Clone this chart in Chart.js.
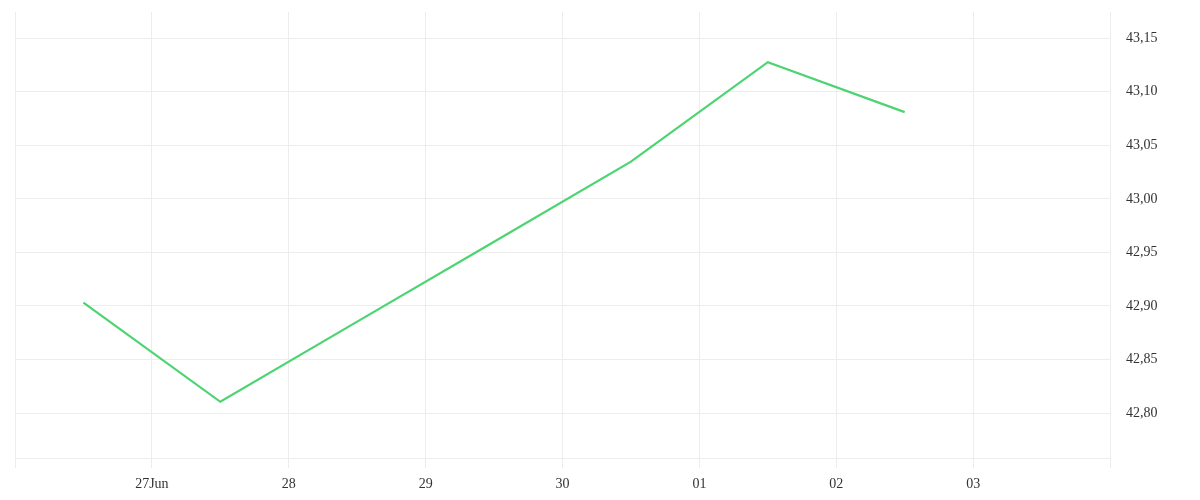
<!DOCTYPE html>
<html>
<head>
<meta charset="utf-8">
<script src="https://cdn.jsdelivr.net/npm/chart.js@4.4.1/dist/chart.umd.min.js"></script>
<style>
  html, body { margin: 0; padding: 0; background: #fff; }
  #wrap { width: 1200px; height: 500px; position: relative; }
</style>
</head>
<body>
<div id="wrap"><canvas id="priceChart"></canvas></div>
<script>
// x positions are day offsets from 26 Jun (points sit at midday)
const xTickLabels = ['', '27Jun', '28', '29', '30', '01', '02', '03', ''];
const pointDays = [0.5, 1.5, 2.5, 3.5, 4.5, 5.5, 6.5];
const prices = [42.903, 42.8105, 42.8854, 42.960, 43.0348, 43.1276, 43.081];
const yTicks = [42.80, 42.85, 42.90, 42.95, 43.00, 43.05, 43.10, 43.15];

const gridColor = '#ededed';
const tickFont = { family: '"Liberation Serif", serif', size: 14 };

const points = pointDays.map((d, i) => ({ x: d, y: prices[i] }));

new Chart(document.getElementById('priceChart'), {
  type: 'line',
  data: {
    datasets: [{
      data: points,
      borderColor: '#4cd471',
      borderWidth: 2.2,
      pointRadius: 0,
      fill: false,
      tension: 0
    }]
  },
  options: {
    responsive: true,
    maintainAspectRatio: false,
    animation: false,
    layout: { padding: { left: 15, top: 12, right: 0, bottom: 0 } },
    plugins: { legend: { display: false }, tooltip: { enabled: false } },
    scales: {
      x: {
        type: 'linear',
        min: 0,
        max: 8,
        afterFit: scale => { scale.height = 42; },
        ticks: {
          stepSize: 1,
          color: '#333',
          font: tickFont,
          padding: 8,
          maxRotation: 0,
          callback: v => xTickLabels[v] ?? ''
        },
        grid: { color: gridColor, tickLength: 10 },
        border: { color: gridColor }
      },
      y: {
        position: 'right',
        min: 42.758,
        max: 43.1745,
        afterFit: scale => {
          scale.width = 90;
          scale.paddingTop = 0;
          scale.paddingBottom = 0;
        },
        afterBuildTicks: scale => { scale.ticks = yTicks.map(v => ({ value: v })); },
        ticks: {
          color: '#333',
          font: tickFont,
          padding: 16,
          callback: v => v.toFixed(2).replace('.', ',')
        },
        grid: { color: gridColor, drawTicks: false },
        border: { color: gridColor }
      }
    }
  }
});
</script>
</body>
</html>
